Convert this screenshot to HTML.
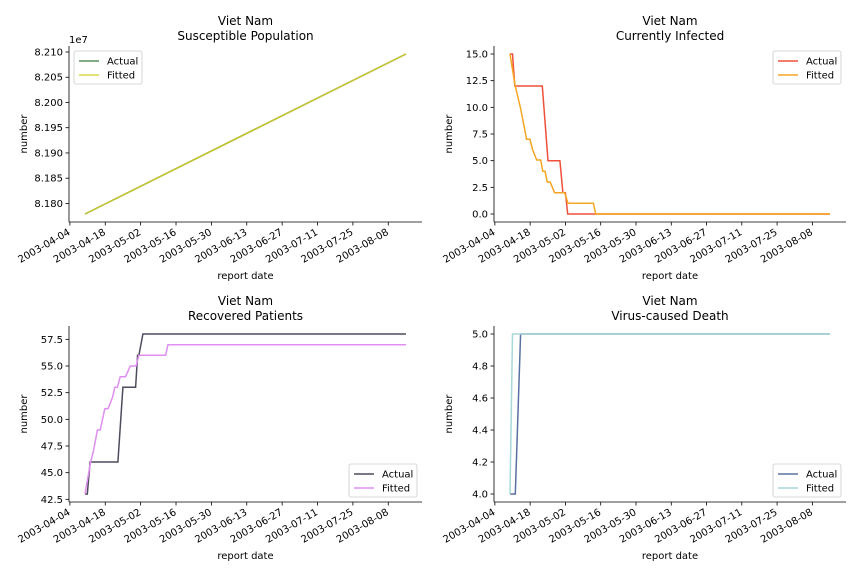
<!DOCTYPE html>
<html><head><meta charset="utf-8"><style>
body{margin:0;background:#fff}
svg{font-family:"DejaVu Sans","Liberation Sans",sans-serif}
text{fill:#000}
</style></head><body>
<svg id="fig" width="864" height="576" viewBox="0 0 864 576"></svg>
<script>
// Data: days since 2003-04-04
const tickLabels=["2003-04-04","2003-04-18","2003-05-02","2003-05-16","2003-05-30","2003-06-13","2003-06-27","2003-07-11","2003-07-25","2003-08-08"];
const tickDays=[0,14,28,42,56,70,84,98,112,126];
const suscActualDays=[6,133];
const suscActual=[8.1779,8.2096];
const suscFittedDays=[6,133];
const suscFitted=[8.1779,8.2096];
const infActualDays=[6,7,7.9,18.8,21.1,25.8,27,28,28.9,133];
const infActual=[15,15,12,12,5,5,2,2,0,0];
const infFittedDays=[6,8,10.2,12.6,13.9,15,16.6,18.2,19,19.9,20.8,21.9,23.7,27.7,29,39.1,40,133];
const infFitted=[15,12.1,9.9,7,7,6,5.06,5.06,4,4,3,3,2,2,1,1,0,0];
const recActualDays=[6,6.9,8,19,21,26,26.8,27.3,28.9,133];
const recActual=[43,43,46,46,53,53,56,56,58,58];
const recFittedDays=[6,8.2,9.3,10.9,12,13.8,15.1,16.8,17.8,18.8,19.9,22,23.9,26.2,27.3,37.9,38.8,133];
const recFitted=[43,46,47,49,49,51,51,52,53,53,54,54,55,55,56,56,57,57];
const dthActualDays=[6,8.1,10.2,133];
const dthActual=[4,4,5,5];
const dthFittedDays=[6,7,133];
const dthFitted=[4,5,5];

const NS="http://www.w3.org/2000/svg";
const svg=document.getElementById('fig');
function mk(tag,attrs,parent){const e=document.createElementNS(NS,tag);for(const k in attrs)e.setAttribute(k,attrs[k]);(parent||svg).appendChild(e);return e;}

const panels=[
 {id:'susceptible',t:'Susceptible Population',x0:69,x1:422,y0:46,y1:222,ymin:8.17632,ymax:8.21119,yt:[8.180,8.185,8.190,8.195,8.200,8.205,8.210],fmt:v=>v.toFixed(3),exp:true,
  s:[[suscActualDays,suscActual,'#5b8f5b'],[suscFittedDays,suscFitted,'#c6c42e']],cols:['#5b8f5b','#d8d84a'],leg:'tl'},
 {id:'infected',t:'Currently Infected',x0:494,x1:846,y0:46,y1:222,ymin:-0.75,ymax:15.75,yt:[0,2.5,5,7.5,10,12.5,15],fmt:v=>v.toFixed(1),
  s:[[infActualDays,infActual,'#f0503a'],[infFittedDays,infFitted,'#f5a623']],cols:['#f0503a','#f5a623'],leg:'tr'},
 {id:'recovered',t:'Recovered Patients',x0:69,x1:422,y0:326,y1:502,ymin:42.25,ymax:58.75,yt:[42.5,45,47.5,50,52.5,55,57.5],fmt:v=>v.toFixed(1),
  s:[[recActualDays,recActual,'#4f4b5e'],[recFittedDays,recFitted,'#e08ef0']],cols:['#4f4b5e','#e08ef0'],leg:'br'},
 {id:'death',t:'Virus-caused Death',x0:494,x1:846,y0:326,y1:502,ymin:3.95,ymax:5.05,yt:[4,4.2,4.4,4.6,4.8,5],fmt:v=>v.toFixed(1),
  s:[[dthActualDays,dthActual,'#5a70a2'],[dthFittedDays,dthFitted,'#a8d8d8']],cols:['#5a70a2','#a8d8d8'],leg:'br'}
];
const xmin=-0.35,xmax=139.35;
panels.forEach(p=>{
 const g=mk('g',{});
 
 
 const X=d=>p.x0+(d-xmin)/(xmax-xmin)*(p.x1-p.x0);
 const Y=v=>p.y1-(v-p.ymin)/(p.ymax-p.ymin)*(p.y1-p.y0);
 const cx=(p.x0+p.x1)/2;
 const t1=mk('text',{x:cx,y:p.y0-21,'text-anchor':'middle','font-size':12},g);t1.textContent='Viet Nam';
 
 const t2=mk('text',{x:cx,y:p.y0-6,'text-anchor':'middle','font-size':12},g);t2.textContent=p.t;
 
 p.s.forEach((s,i)=>{
  const pts=s[0].map((d,j)=>X(d).toFixed(1)+','+Y(s[1][j]).toFixed(1)).join(' ');
  const l=mk('polyline',{points:pts,fill:'none',stroke:s[2],'stroke-width':1.5},g);
  
  
 });
 mk('line',{x1:p.x0,y1:p.y0,x2:p.x0,y2:p.y1,stroke:'#000','stroke-width':0.8},g);
 mk('line',{x1:p.x0,y1:p.y1,x2:p.x1,y2:p.y1,stroke:'#000','stroke-width':0.8},g);
 p.yt.forEach(v=>{
  const y=Y(v);
  mk('line',{x1:p.x0-3.5,y1:y,x2:p.x0,y2:y,stroke:'#000','stroke-width':0.8},g);
  const t=mk('text',{x:p.x0-6,y:y+3.5,'text-anchor':'end','font-size':10},g);t.textContent=p.fmt(v);
  
 });
 if(p.exp){const e=mk('text',{x:p.x0,y:p.y0-3,'font-size':10},g);e.textContent='1e7';
  }
 tickDays.forEach((d,i)=>{
  const x=X(d);
  mk('line',{x1:x,y1:p.y1,x2:x,y2:p.y1+3.5,stroke:'#000','stroke-width':0.8},g);
  const t=mk('text',{x:x+1,y:p.y1+12,'text-anchor':'end','font-size':10,transform:`rotate(-30 ${x+1} ${p.y1+12})`},g);
  t.textContent=tickLabels[i];
  
 });
 const xl=mk('text',{x:cx,y:p.y1+57,'text-anchor':'middle','font-size':10},g);xl.textContent='report date';
 
 const yx=p.x0-42,yy=(p.y0+p.y1)/2;
 const yl=mk('text',{x:yx,y:yy,'text-anchor':'middle','font-size':10,transform:`rotate(-90 ${yx} ${yy})`},g);yl.textContent='number';
 
 // legend
 const lw=68,lh=33;
 let lx,ly;
 if(p.leg==='tl'){lx=p.x0+5;ly=p.y0+5;}else if(p.leg==='tr'){lx=p.x1-lw-5;ly=p.y0+5;}else{lx=p.x1-lw-5;ly=p.y1-lh-5;}
 const lg=mk('g',{},g);
 
 mk('rect',{x:lx,y:ly,width:lw,height:lh,rx:2,fill:'#fff','fill-opacity':0.8,stroke:'#ccc','stroke-width':0.8},lg);
 ['Actual','Fitted'].forEach((n,i)=>{
  const yy2=ly+10+i*14;
  mk('line',{x1:lx+5,y1:yy2,x2:lx+25,y2:yy2,stroke:p.cols[i],'stroke-width':1.5},lg);
  const t=mk('text',{x:lx+33,y:yy2+3.5,'font-size':10},lg);t.textContent=n;
  
 });
});
</script>
</body></html>
